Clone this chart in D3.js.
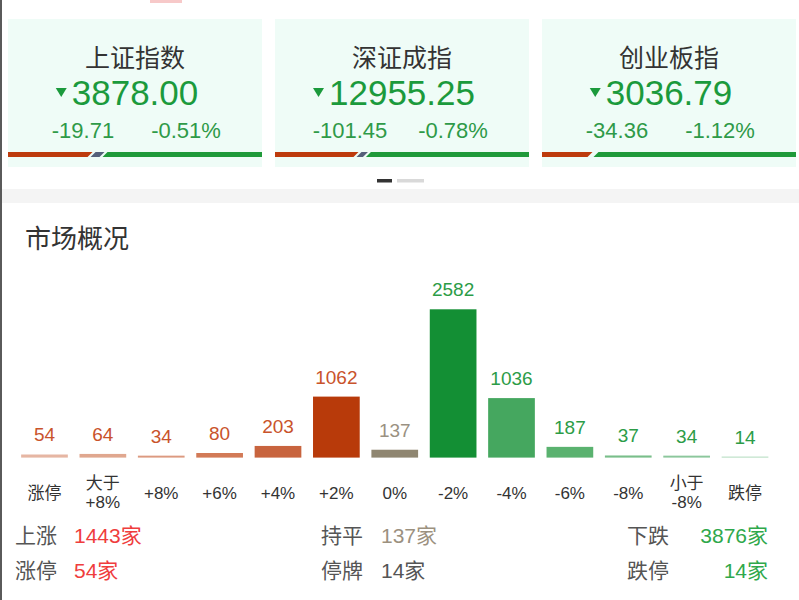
<!DOCTYPE html>
<html><head><meta charset="utf-8">
<script src="https://cdn.jsdelivr.net/npm/d3@7"></script>
<style>
html,body{margin:0;padding:0;background:#fff;}
svg{display:block;font-family:"Liberation Sans","Noto Sans CJK SC",sans-serif;}
</style></head>
<body><svg id="c" width="799" height="600"></svg>
<script>
// ---- index cards ----
const indexNames = ["上证指数", "深证成指", "创业板指"];
const indexValues = ["3878.00", "12955.25", "3036.79"];
const indexChanges = ["-19.71", "-101.45", "-34.36"];
const indexPcts = ["-0.51%", "-0.78%", "-1.12%"];
const indexUpShare = [0.323, 0.319, 0.189];
const indexFlatShare = [0.047, 0.037, 0];

// ---- market overview ----
const categories = ["涨停", "大于|+8%", "+8%", "+6%", "+4%", "+2%", "0%", "-2%", "-4%", "-6%", "-8%", "小于|-8%", "跌停"];
const counts = [54, 64, 34, 80, 203, 1062, 137, 2582, 1036, 187, 37, 34, 14];
const barColors = ["#e6b6a3", "#e0a78f", "#dc9a80", "#d27a57", "#c8643e", "#b83a0a", "#8f8671",
                   "#138f34", "#45a75f", "#5ab26f", "#79be8a", "#8cc79c", "#b2dbbd"];
const labelColors = ["#c9532b", "#c9532b", "#c9532b", "#c9532b", "#c9532b", "#c9532b", "#9a9182",
                     "#2c9c47", "#2c9c47", "#2c9c47", "#2c9c47", "#2c9c47", "#2c9c47"];

const summaryLabels = [["上涨", "持平", "下跌"], ["涨停", "停牌", "跌停"]];
const summaryValues = [["1443家", "137家", "3876家"], ["54家", "14家", "14家"]];
const summaryColors = [["#ef3d3d", "#9c917f", "#2fa84b"], ["#ef3d3d", "#555555", "#2fa84b"]];

const svg = d3.select("#c");

// left edge and top accents
svg.append("rect").attr("x", 0).attr("y", 0).attr("width", 2).attr("height", 600).attr("fill", "#5a5a5a");
svg.append("rect").attr("x", 150).attr("y", 0).attr("width", 32).attr("height", 3).attr("fill", "#f7c9c9");

// cards
const cardW = 254;
indexNames.forEach((name, i) => {
  const x0 = 8 + i * 267;
  const cx = x0 + cardW / 2;
  const g = svg.append("g");
  g.append("rect").attr("x", x0).attr("y", 19).attr("width", cardW).attr("height", 148).attr("fill", "#effcf7");
  g.append("text").attr("x", cx).attr("y", 58).attr("text-anchor", "middle").attr("dominant-baseline", "central")
    .attr("font-size", 25).attr("fill", "#333").text(name);
  const vt = g.append("text").attr("x", cx).attr("y", 105).attr("text-anchor", "middle")
    .attr("font-size", 35).attr("fill", "#1b9a3c").text(indexValues[i]);
  const w = vt.node().getComputedTextLength();
  const tx = cx - w / 2 - 5;
  g.append("path").attr("d", `M${tx - 11},88 L${tx},88 L${tx - 5.5},97 Z`).attr("fill", "#1b9a3c");
  g.append("text").attr("x", cx - 52).attr("y", 138).attr("text-anchor", "middle")
    .attr("font-size", 22).attr("fill", "#2e9a48").text(indexChanges[i]);
  g.append("text").attr("x", cx + 51).attr("y", 138).attr("text-anchor", "middle")
    .attr("font-size", 22).attr("fill", "#2e9a48").text(indexPcts[i]);
  // ratio bar
  const xs = d3.scaleLinear().domain([0, 1]).range([x0, x0 + cardW]);
  const top = 152, bot = 157, s = 2.5;
  const up = indexUpShare[i], fl = indexFlatShare[i];
  const r1 = xs(up);
  g.append("path").attr("d", `M${x0},${top} L${r1 + s},${top} L${r1 - s},${bot} L${x0},${bot} Z`).attr("fill", "#bd3b0d");
  let gs;
  if (fl > 0) {
    const g0 = r1 + 3, g1 = xs(up + fl);
    g.append("path").attr("d", `M${g0 + s},${top} L${g1 + s},${top} L${g1 - s},${bot} L${g0 - s},${bot} Z`).attr("fill", "#55607a");
    gs = g1 + 3;
  } else {
    gs = r1 + 6;
  }
  const x1 = x0 + cardW;
  g.append("path").attr("d", `M${gs + s},${top} L${x1},${top} L${x1},${bot} L${gs - s},${bot} Z`).attr("fill", "#1f9a3a");
});

// pagination
svg.append("rect").attr("x", 377).attr("y", 179).attr("width", 15).attr("height", 3.5).attr("fill", "#333");
svg.append("rect").attr("x", 397).attr("y", 179).attr("width", 27).attr("height", 3.5).attr("fill", "#d9d9d9");

// separator band
svg.append("rect").attr("x", 2).attr("y", 189).attr("width", 797).attr("height", 14).attr("fill", "#f4f4f4");

// title
svg.append("text").attr("x", 25).attr("y", 239).attr("dominant-baseline", "central")
  .attr("font-size", 26).attr("fill", "#333").text("市场概况");

// bars
const x = d3.scaleBand().domain(categories).range([15.3, 774.2]).paddingInner(0.2).paddingOuter(0.1);
const y = d3.scaleLinear().domain([0, d3.max(counts)]).range([457.6, 309.3]);
const bars = svg.append("g");
categories.forEach((c, i) => {
  const h = Math.max(1, y(0) - y(counts[i]));
  bars.append("rect").attr("x", x(c)).attr("y", y(0) - h).attr("width", x.bandwidth()).attr("height", h).attr("fill", barColors[i]);
  bars.append("text").attr("x", x(c) + x.bandwidth() / 2).attr("y", y(0) - h - 13)
    .attr("text-anchor", "middle").attr("font-size", 19).attr("fill", labelColors[i]).text(counts[i]);
  const parts = c.split("|");
  const cx = x(c) + x.bandwidth() / 2;
  if (parts.length === 1) {
    bars.append("text").attr("x", cx).attr("y", 493).attr("dominant-baseline", "central")
      .attr("text-anchor", "middle").attr("font-size", 17).attr("fill", "#333").text(parts[0]);
  } else {
    bars.append("text").attr("x", cx).attr("y", 483).attr("dominant-baseline", "central")
      .attr("text-anchor", "middle").attr("font-size", 17).attr("fill", "#333").text(parts[0]);
    bars.append("text").attr("x", cx).attr("y", 502).attr("dominant-baseline", "central")
      .attr("text-anchor", "middle").attr("font-size", 17).attr("fill", "#333").text(parts[1]);
  }
});

// summary
const rowY = [535, 570];
const labelX = [15, 321, 627];
const valueX = [74, 381, 768];
summaryLabels.forEach((row, r) => {
  row.forEach((lab, k) => {
    svg.append("text").attr("x", labelX[k]).attr("y", rowY[r]).attr("dominant-baseline", "central")
      .attr("font-size", 21).attr("fill", "#555").text(lab);
    svg.append("text").attr("x", valueX[k]).attr("y", rowY[r]).attr("dominant-baseline", "central")
      .attr("text-anchor", k === 2 ? "end" : "start")
      .attr("font-size", 21).attr("fill", summaryColors[r][k]).text(summaryValues[r][k]);
  });
});
</script></body></html>
